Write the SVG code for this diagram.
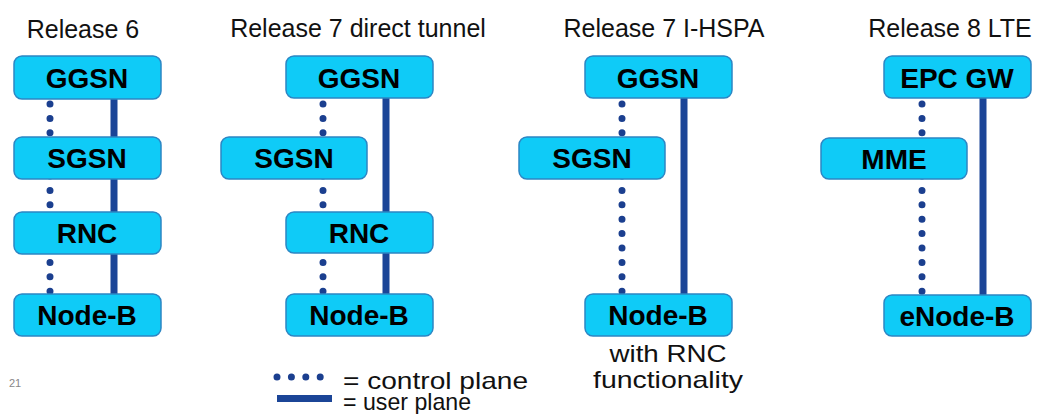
<svg xmlns="http://www.w3.org/2000/svg" width="1037" height="414" viewBox="0 0 1037 414">
<style>
.bg{fill:#ffffff}
.box{fill:#0FCBF7;stroke:#2C86C4;stroke-width:1.5}
.lbl{font-family:"Liberation Sans",Arial,sans-serif;font-weight:bold;font-size:28px;fill:#000;text-anchor:middle}
.title{font-family:"Liberation Sans",Arial,sans-serif;font-size:25px;fill:#111;text-anchor:middle}
.note{font-family:"Liberation Sans",Arial,sans-serif;font-size:24px;fill:#111}
.user{stroke:#1B4597;stroke-width:7;fill:none}
.ctrl{stroke:#1B3F8F;stroke-width:7;fill:none;stroke-linecap:round;stroke-dasharray:0 14.4}
</style>
<rect class="bg" x="0" y="0" width="1037" height="414"/>
<g id="titles">
<text class="title" x="83" y="38">Release 6</text>
<text class="title" x="358" y="37">Release 7 direct tunnel</text>
<text class="title" x="664" y="37">Release 7 I-HSPA</text>
<text class="title" x="950" y="37">Release 8 LTE</text>
</g>
<g id="connectors">
<line class="user" x1="114" y1="98" x2="114" y2="295"/>
<line class="ctrl" x1="50" y1="104" x2="50" y2="294"/>
<line class="user" x1="386" y1="98" x2="386" y2="295"/>
<line class="ctrl" x1="323" y1="104" x2="323" y2="294"/>
<line class="user" x1="684" y1="98" x2="684" y2="295"/>
<line class="ctrl" x1="622" y1="104" x2="622" y2="294"/>
<line class="user" x1="983" y1="98" x2="983" y2="296"/>
<line class="ctrl" x1="922" y1="104" x2="922" y2="294"/>
</g>
<g id="r6-ggsn"><rect class="box" x="14" y="56" width="147" height="43" rx="8"/><text class="lbl" x="87" y="88">GGSN</text></g>
<g id="r6-sgsn"><rect class="box" x="14" y="137" width="147" height="42" rx="8"/><text class="lbl" x="87" y="168">SGSN</text></g>
<g id="r6-rnc"><rect class="box" x="14" y="212" width="147" height="42" rx="8"/><text class="lbl" x="87" y="243">RNC</text></g>
<g id="r6-nodeb"><rect class="box" x="14" y="294" width="147" height="42" rx="8"/><text class="lbl" x="87" y="325">Node-B</text></g>
<g id="r7dt-ggsn"><rect class="box" x="286" y="56" width="147" height="42" rx="8"/><text class="lbl" x="359" y="88">GGSN</text></g>
<g id="r7dt-sgsn"><rect class="box" x="221" y="137" width="146" height="42" rx="8"/><text class="lbl" x="294" y="168">SGSN</text></g>
<g id="r7dt-rnc"><rect class="box" x="286" y="212" width="147" height="41" rx="8"/><text class="lbl" x="359" y="243">RNC</text></g>
<g id="r7dt-nodeb"><rect class="box" x="286" y="294" width="147" height="42" rx="8"/><text class="lbl" x="359" y="325">Node-B</text></g>
<g id="r7i-ggsn"><rect class="box" x="585" y="56" width="147" height="42" rx="8"/><text class="lbl" x="658" y="88">GGSN</text></g>
<g id="r7i-sgsn"><rect class="box" x="519" y="137" width="146" height="42" rx="8"/><text class="lbl" x="592" y="168">SGSN</text></g>
<g id="r7i-nodeb"><rect class="box" x="585" y="294" width="147" height="42" rx="8"/><text class="lbl" x="658" y="325">Node-B</text></g>
<g id="r8-epcgw"><rect class="box" x="884" y="56" width="147" height="42" rx="8"/><text class="lbl" x="957" y="88">EPC GW</text></g>
<g id="r8-mme"><rect class="box" x="821" y="138" width="146" height="41" rx="8"/><text class="lbl" x="894" y="169">MME</text></g>
<g id="r8-enodeb"><rect class="box" x="884" y="295" width="147" height="41" rx="8"/><text class="lbl" x="957" y="326">eNode-B</text></g>
<g id="note">
<text class="note" x="668" y="362" text-anchor="middle" textLength="117" lengthAdjust="spacingAndGlyphs">with RNC</text>
<text class="note" x="668" y="388" text-anchor="middle" textLength="150" lengthAdjust="spacingAndGlyphs">functionality</text>
</g>
<g id="legend">
<line class="ctrl" x1="277" y1="377" x2="325" y2="377"/>
<rect x="277" y="395" width="55" height="7" fill="#1B4597"/>
<text class="note" x="343" y="389" textLength="185" lengthAdjust="spacingAndGlyphs">= control plane</text>
<text class="note" x="343" y="410" textLength="128" lengthAdjust="spacingAndGlyphs" font-size="25">= user plane</text>
</g>
<text x="9" y="387" font-family="'Liberation Sans',Arial,sans-serif" font-size="11" fill="#888">21</text>
</svg>
